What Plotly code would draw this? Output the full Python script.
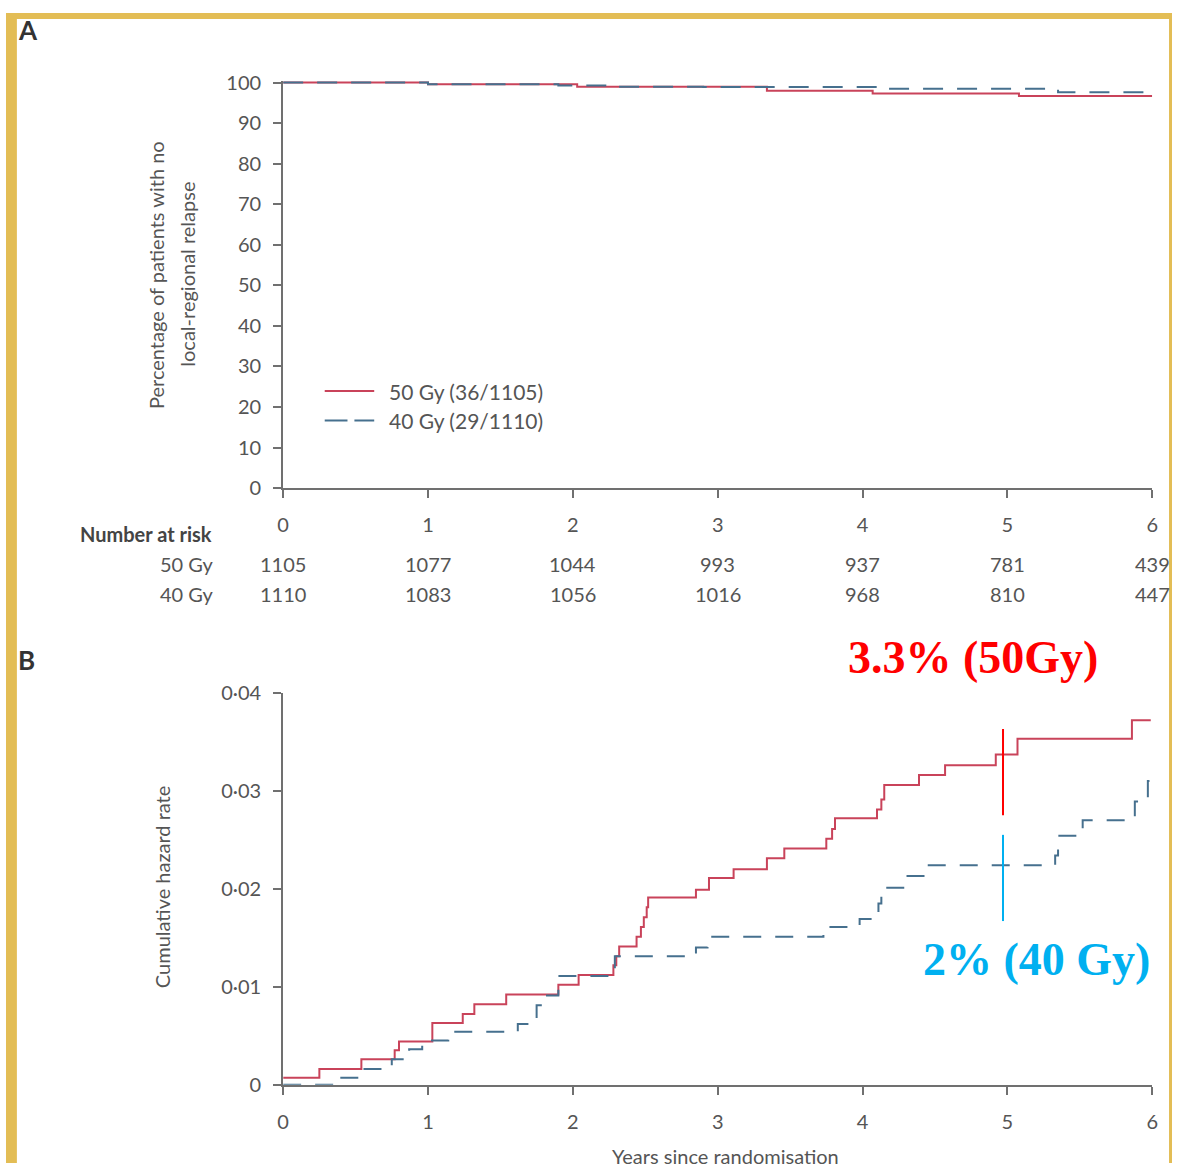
import plotly.graph_objects as go

W, H = 1178, 1174

# ---------------- data ----------------
years = [0, 1, 2, 3, 4, 5, 6]
year_labels = ["0", "1", "2", "3", "4", "5", "6"]

# Panel A: Kaplan-Meier (% with no local-regional relapse)
km50_t = [0, 1.0, 2.03, 3.34, 4.07, 5.08, 6.0]
km50_s = [100, 99.6, 99.0, 98.0, 97.3, 96.7, 96.7]
km40_t = [0, 1.0, 1.9, 2.3, 2.9, 4.1, 5.35, 6.0]
km40_s = [100, 99.6, 99.3, 99.0, 98.9, 98.5, 97.6, 97.6]
a_yticks = [0, 10, 20, 30, 40, 50, 60, 70, 80, 90, 100]

risk_50 = [1105, 1077, 1044, 993, 937, 781, 439]
risk_40 = [1110, 1083, 1056, 1016, 968, 810, 447]

# Panel B: cumulative hazard
ch50_t = [0, 0.25, 0.54, 0.77, 0.80, 1.03, 1.24, 1.32, 1.54, 1.90, 2.04, 2.28, 2.30, 2.32,
          2.44, 2.47, 2.49, 2.51, 2.52, 2.85, 2.94, 3.11, 3.34, 3.46, 3.75, 3.79, 3.81,
          4.10, 4.13, 4.15, 4.39, 4.57, 4.92, 5.07, 5.86, 5.99]
ch50_h = [0.0007, 0.0016, 0.0026, 0.0035, 0.0044, 0.0063, 0.0072, 0.0082, 0.0092, 0.0102,
          0.0112, 0.0122, 0.0131, 0.0141, 0.0151, 0.0161, 0.0171, 0.0181, 0.0191, 0.0199,
          0.0211, 0.0220, 0.0231, 0.0241, 0.0251, 0.0261, 0.0272, 0.0281, 0.0291, 0.0306,
          0.0316, 0.0326, 0.0337, 0.0353, 0.0372, 0.0372]
ch40_t = [0, 0.39, 0.55, 0.75, 0.87, 0.96, 1.14, 1.62, 1.75, 1.80, 1.90, 2.29, 2.85, 2.93,
          3.73, 3.98, 4.11, 4.13, 4.29, 4.45, 5.33, 5.35, 5.52, 5.88, 5.97, 5.99]
ch40_h = [0, 0.0007, 0.0016, 0.0026, 0.0036, 0.0045, 0.0054, 0.0062, 0.0081, 0.0091, 0.0111,
          0.0131, 0.0140, 0.0151, 0.0161, 0.0169, 0.0185, 0.0201, 0.0213, 0.0224, 0.0234,
          0.0254, 0.0270, 0.0289, 0.0310, 0.0310]
b_yticks = [0, 0.01, 0.02, 0.03, 0.04]
b_ytick_labels = ["0", "0·01", "0·02", "0·03", "0·04"]

# 5-year markers
mark_x = 4.97
mark50_y = [0.0275, 0.0363]
mark40_y = [0.0167, 0.0255]
label50 = "3.3% (50Gy)"
label40 = "2% (40 Gy)"

# ---------------- style ----------------
RED = "#C9435A"
BLUE = "#46708E"
AX = "#707070"
TXT = "#555555"
FONT = "Lato"
GOLD = "#E3BD55"


def px(p):
    return p / W


def py(p):
    return 1 - p / H


fig = go.Figure()

fig.add_trace(go.Scatter(x=km50_t, y=km50_s, mode="lines", line_shape="hv",
                         line=dict(color=RED, width=2), xaxis="x", yaxis="y",
                         showlegend=False))
fig.add_trace(go.Scatter(x=km40_t, y=km40_s, mode="lines", line_shape="hv",
                         line=dict(color=BLUE, width=2, dash="20px,14px"), xaxis="x", yaxis="y",
                         showlegend=False))
fig.add_trace(go.Scatter(x=ch50_t, y=ch50_h, mode="lines", line_shape="hv",
                         line=dict(color=RED, width=2), xaxis="x2", yaxis="y2",
                         showlegend=False))
fig.add_trace(go.Scatter(x=ch40_t, y=ch40_h, mode="lines", line_shape="hv",
                         line=dict(color=BLUE, width=2, dash="18px,14px"), xaxis="x2", yaxis="y2",
                         showlegend=False))

axis_common = dict(showline=True, linecolor=AX, linewidth=2, ticks="outside", ticklen=8,
                   tickwidth=2, tickcolor=AX, showgrid=False, zeroline=False,
                   tickfont=dict(family=FONT, size=20, color=TXT), fixedrange=True)

xdom = [px(280), px(1158)]
fig.update_layout(
    width=W, height=H, margin=dict(l=0, r=0, t=0, b=0),
    paper_bgcolor="white", plot_bgcolor="white", showlegend=False,
    xaxis=dict(domain=xdom, range=[0, 6], anchor="y", tickvals=years, ticktext=year_labels,
               ticklabelstandoff=10, **axis_common),
    yaxis=dict(domain=[py(485), py(69)], range=[0, 100.5], anchor="x", tickvals=a_yticks,
               ticktext=[str(v) for v in a_yticks], ticklabelstandoff=8, **axis_common),
    xaxis2=dict(domain=xdom, range=[0, 6], anchor="y2", tickvals=years, ticktext=year_labels,
                ticklabelstandoff=10, **axis_common),
    yaxis2=dict(domain=[py(1094), py(694)], range=[0, 0.04], anchor="x2", tickvals=b_yticks,
                ticktext=b_ytick_labels, ticklabelstandoff=8, **axis_common),
)

ann = []


def text(x, y, s, size=20, color=TXT, xanchor="center", bold=False, family=FONT, xref="paper",
         angle=0):
    ann.append(dict(x=x, y=y, xref=xref, yref="paper", text=("<b>%s</b>" % s) if bold else s,
                    showarrow=False, xanchor=xanchor, yanchor="middle", textangle=angle,
                    font=dict(family=family, size=size, color=color)))


# panel labels
text(px(22), py(17), "A", size=26, color="#333333", bold=True)
text(px(21), py(660), "B", size=26, color="#333333", bold=True)

# axis titles
text(px(151), py(267), "Percentage of patients with no", angle=-90)
text(px(182), py(267), "local-regional relapse", angle=-90)
text(px(157), py(892), "Cumulative hazard rate", angle=-90)
text(px(727), py(1167), "Years since randomisation")

# legend
text(px(385), py(386), "50 Gy (36/1105)", xanchor="left", size=21)
text(px(385), py(416), "40 Gy (29/1110)", xanchor="left", size=21)

# number at risk
text(px(210), py(532), "Number at risk", xanchor="right", bold=True, color="#444444")
text(px(212), py(563), "50 Gy", xanchor="right")
text(px(212), py(593), "40 Gy", xanchor="right")
for t, a, b in zip(years, risk_50, risk_40):
    text(t, py(563), str(a), xref="x")
    text(t, py(593), str(b), xref="x")

# highlighted labels
text(px(977), py(658), "<b>%s</b>" % label50, size=46, color="#FF0000",
     family="Liberation Serif")
text(px(1041), py(966), "<b>%s</b>" % label40, size=46, color="#00B0F0",
     family="Liberation Serif")

fig.update_layout(annotations=ann)

shapes = [
    # legend samples
    dict(type="line", xref="paper", yref="paper", x0=px(322), x1=px(372), y0=py(386), y1=py(386),
         line=dict(color=RED, width=2)),
    dict(type="line", xref="paper", yref="paper", x0=px(322), x1=px(345), y0=py(416), y1=py(416),
         line=dict(color=BLUE, width=2)),
    dict(type="line", xref="paper", yref="paper", x0=px(352), x1=px(372), y0=py(416), y1=py(416),
         line=dict(color=BLUE, width=2)),
    # 5-year markers
    dict(type="line", xref="x2", yref="y2", x0=mark_x, x1=mark_x, y0=mark50_y[0], y1=mark50_y[1],
         line=dict(color="#FF0000", width=2)),
    dict(type="line", xref="x2", yref="y2", x0=mark_x, x1=mark_x, y0=mark40_y[0], y1=mark40_y[1],
         line=dict(color="#00B0F0", width=2)),
    # gold frame
    dict(type="rect", xref="paper", yref="paper", x0=0, x1=px(11), y0=0, y1=1, layer="above",
         line=dict(width=0), fillcolor=GOLD),
    dict(type="rect", xref="paper", yref="paper", x0=0, x1=1, y0=py(6), y1=1, layer="above",
         line=dict(width=0), fillcolor=GOLD),
    dict(type="rect", xref="paper", yref="paper", x0=px(1175), x1=1, y0=0, y1=1, layer="above",
         line=dict(width=0), fillcolor=GOLD),
]
fig.update_layout(shapes=shapes)

fig.write_html("out.html")
